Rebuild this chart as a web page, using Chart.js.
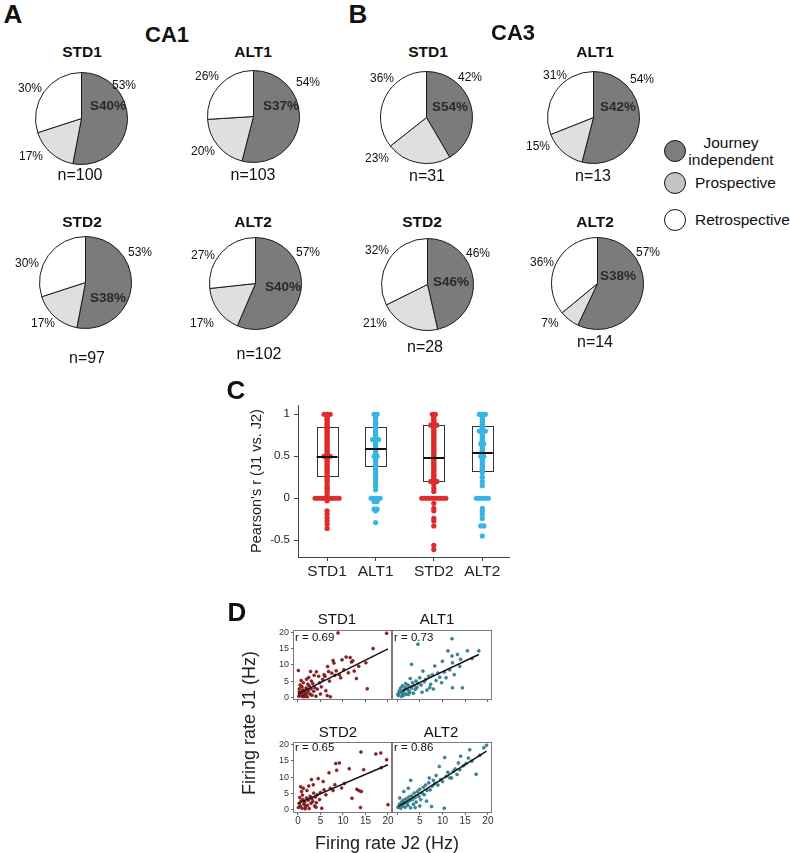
<!DOCTYPE html>
<html><head><meta charset="utf-8">
<script src="https://cdn.jsdelivr.net/npm/chart.js@4.4.1/dist/chart.umd.min.js"></script>
<style>
html,body{margin:0;padding:0;background:#fff;}
body{width:790px;height:853px;position:relative;overflow:hidden;font-family:"Liberation Sans",Arial,sans-serif;color:#111;}
.t{position:absolute;white-space:nowrap;line-height:1;}
canvas{position:absolute;}
.lg{position:absolute;width:22px;height:22px;border-radius:50%;border:1.5px solid #111;box-sizing:border-box;}
</style></head><body>
<script>
// ---------------- DATA ----------------
const pieTitles = ['STD1','ALT1','STD2','ALT2'];
// CA1
const ca1Journey = [53,54,53,57];
const ca1Prospective = [17,20,17,17];
const ca1Retrospective = [30,26,30,27];
const ca1S = [40,37,38,40];
const ca1N = [100,103,97,102];
// CA3
const ca3Journey = [42,54,46,57];
const ca3Prospective = [23,15,21,7];
const ca3Retrospective = [36,31,32,36];
const ca3S = [54,42,46,38];
const ca3N = [31,13,28,14];
const legendLabels = ['Journey\nindependent','Prospective','Retrospective'];

// Panel C: Pearson's r per cell
const corrCategories = ['STD1','ALT1','STD2','ALT2'];
const corrStd1 = [1,1,1,0.98,0.96,0.94,0.92,0.9,0.88,0.86,0.85,0.84,0.82,0.8,0.78,0.76,0.74,0.72,0.7,0.68,0.66,0.64,0.62,0.6,0.58,0.56,0.54,0.52,0.5,0.5,0.5,0.48,0.46,0.44,0.42,0.4,0.38,0.36,0.34,0.32,0.3,0.28,0.26,0.24,0.22,0.2,0.17,0.14,0.12,0.1,0.07,0.04,0,0,0,0,0,0,0,0,0,-0.03,-0.15,-0.19,-0.23,-0.27,-0.31,-0.36];
const corrAlt1 = [1,1,0.98,0.95,0.92,0.9,0.88,0.85,0.82,0.8,0.78,0.75,0.72,0.7,0.7,0.7,0.68,0.65,0.62,0.6,0.58,0.55,0.52,0.5,0.5,0.48,0.45,0.42,0.4,0.38,0.35,0.32,0.3,0.28,0.25,0.22,0.2,0.17,0.14,0.1,0,0,0,0,-0.04,-0.04,-0.13,-0.13,-0.15,-0.29];
const corrStd2 = [1,1,0.98,0.96,0.94,0.92,0.9,0.88,0.87,0.87,0.87,0.85,0.83,0.81,0.79,0.77,0.75,0.73,0.71,0.69,0.67,0.65,0.63,0.61,0.59,0.57,0.55,0.53,0.51,0.49,0.47,0.45,0.43,0.41,0.39,0.37,0.35,0.33,0.31,0.29,0.27,0.25,0.23,0.21,0.2,0.2,0.2,0.16,0.12,0.08,0,0,0,0,0,0,0,0,0,-0.06,-0.12,-0.15,-0.24,-0.27,-0.33,-0.56,-0.61];
const corrAlt2 = [1,1,1,0.98,0.96,0.94,0.92,0.9,0.88,0.86,0.84,0.82,0.8,0.8,0.8,0.78,0.76,0.74,0.72,0.7,0.68,0.66,0.65,0.65,0.63,0.61,0.59,0.57,0.55,0.53,0.51,0.5,0.5,0.48,0.46,0.44,0.42,0.4,0.38,0.36,0.34,0.32,0.3,0.25,0.2,0.15,0,0,0,0,0,-0.12,-0.15,-0.19,-0.24,-0.33,-0.33,-0.45];
const boxQ1 = [0.26,0.39,0.20,0.32];
const boxMedian = [0.49,0.59,0.48,0.54];
const boxQ3 = [0.85,0.85,0.87,0.86];
const corrTicks = [-0.5,0,0.5,1];

// Panel D: firing rate J2 (x) vs J1 (y), Hz
const frStd1 = [[0.2,0.3],[0.4,1.0],[0.6,0.5],[0.8,1.5],[1.0,0.2],[1.1,2.2],[1.3,0.9],[1.5,1.8],[1.6,0.4],[1.8,2.8],[2.0,1.2],[2.1,0.1],[2.3,2.0],[2.5,3.5],[2.7,1.0],[2.9,2.6],[3.1,0.6],[3.3,4.2],[3.5,1.8],[3.7,3.0],[0.3,2.6],[0.5,3.8],[0.9,3.2],[1.2,4.5],[0.1,8.3],[0.7,5.2],[1.9,5.6],[2.4,6.1],[2.2,4.0],[3.0,5.0],[4.0,0.3],[4.3,2.5],[4.6,6.5],[4.8,4.5],[5.2,3.2],[5.5,5.5],[5.0,1.0],[5.8,7.0],[6.0,6.5],[6.2,2.0],[6.5,0.5],[6.8,8.0],[7.0,5.0],[7.2,0.1],[7.5,7.5],[7.8,11.4],[8.0,10.6],[8.2,6.8],[8.5,8.2],[8.9,20],[9.2,7.0],[9.5,6.0],[9.8,11.6],[10.2,8.5],[10.7,12.5],[11.2,7.6],[11.6,12.3],[11.9,10.9],[12.2,11.3],[12.5,8.1],[13.0,5.8],[13.5,9.6],[15.1,10.7],[15.4,2.6],[16.7,15.1],[19.7,19.9],[3.6,6.8],[4.1,7.9],[6.6,9.5],[2.8,8.0],[1.4,0.1],[0.3,1.7]];
const frAlt1 = [[0.3,0.5],[0.6,1.5],[0.8,2.8],[1.0,0.2],[1.2,3.5],[1.4,1.8],[1.6,2.2],[1.8,3.0],[2.0,1.0],[2.2,2.5],[2.4,3.8],[2.6,2.0],[2.8,1.5],[3.0,3.2],[3.2,2.8],[3.4,4.5],[3.6,1.2],[3.8,3.6],[4.0,2.4],[4.2,5.0],[4.4,3.0],[4.6,4.2],[0.5,2.0],[1.1,1.2],[1.9,4.2],[2.9,5.8],[3.2,10.2],[4.6,16.5],[5.0,6.0],[5.3,3.8],[5.7,8.1],[6.0,4.8],[6.3,5.5],[6.6,2.2],[7.0,6.5],[7.4,4.0],[7.8,7.0],[8.3,9.7],[8.6,5.2],[9.0,7.5],[9.4,6.2],[9.8,4.5],[10.0,11.2],[10.4,7.8],[10.8,6.0],[11.2,14.4],[11.6,8.5],[12.1,18.2],[12.1,12.8],[12.2,10.7],[12.2,2.9],[12.6,7.0],[13.3,13.3],[13.8,9.6],[14.0,11.8],[14.4,2.9],[15.5,14.4],[16.5,12.0],[18.0,14.4],[0.2,1.0],[1.5,0.6],[2.5,0.8],[5.5,1.5],[7.2,3.0],[8.0,2.5]];
const frStd2 = [[0.1,0.5],[0.3,1.8],[0.5,1.0],[0.7,2.5],[0.9,0.3],[1.1,3.0],[1.3,1.5],[1.5,2.2],[1.7,0.8],[1.9,3.5],[2.1,1.2],[2.3,2.8],[2.5,0.2],[2.7,4.0],[2.9,1.8],[3.1,3.2],[3.3,2.4],[3.5,5.0],[3.7,1.0],[3.9,3.8],[4.1,2.0],[4.3,4.5],[0.4,3.6],[0.8,5.5],[1.2,6.5],[0.6,7.0],[1.0,4.4],[2.0,5.8],[2.4,7.2],[3.0,9.2],[3.4,7.6],[4.5,9.5],[4.8,3.0],[5.3,0.3],[5.6,8.6],[5.0,5.2],[5.8,6.0],[6.2,4.5],[6.9,11.3],[7.2,6.5],[7.8,5.8],[8.2,7.6],[8.6,12.1],[8.4,14.2],[9.2,14.4],[9.7,6.6],[10.3,8.0],[11.4,12.6],[12.0,3.4],[13.1,6.2],[13.6,5.7],[13.9,0.5],[14.0,17.8],[14.1,5.5],[14.6,12.3],[17.3,17.2],[18.4,17.5],[19.7,15.4],[20.0,1.4],[18.5,12.9],[1.6,0.1],[4.0,0.6]];
const frAlt2 = [[0.2,0.6],[0.5,1.5],[0.8,0.3],[1.0,2.2],[1.2,1.0],[1.4,2.8],[1.6,1.8],[1.8,0.6],[2.0,3.2],[2.2,2.0],[2.4,1.2],[2.6,3.8],[2.8,2.6],[3.0,0.4],[3.2,4.2],[3.4,3.0],[3.6,1.5],[3.8,5.0],[4.0,3.6],[4.2,2.2],[4.5,5.5],[4.8,4.0],[5.0,6.2],[5.2,3.0],[5.5,5.0],[5.8,6.8],[6.0,4.5],[6.3,7.5],[6.6,5.8],[7.0,8.2],[7.1,9.7],[7.3,6.0],[7.6,0.8],[7.8,7.2],[8.0,9.0],[8.3,8.0],[8.6,10.5],[9.0,7.5],[9.3,13.3],[9.6,9.2],[10.0,8.6],[10.4,0.3],[10.5,16.1],[10.8,10.2],[11.2,11.5],[11.6,9.8],[12.0,9.7],[12.4,11.8],[12.8,12.5],[13.2,10.8],[13.5,14.4],[13.8,12.3],[14.0,16.5],[14.6,13.5],[15.2,14.2],[15.7,15.9],[16.0,18.5],[16.5,15.0],[17.4,10.9],[18.2,16.8],[19.1,19.1],[19.7,19.9],[1.5,5.5],[2.5,6.5],[0.6,3.5],[3.0,9.0],[5.0,1.0],[6.5,2.5],[4.0,0.5]];
const frR = [0.69,0.73,0.65,0.86];
const fitSlope = [0.70,0.67,0.60,0.89];
const fitIntercept = [1.0,1.2,1.8,0.5];
const fitFrom = [0,1,0,0.3];
const fitTo = [20,18,20,19.7];
const frTicks = [0,5,10,15,20];

// ---------------- HELPERS ----------------
const FONT = '"Liberation Sans", Arial, sans-serif';
Chart.defaults.font.family = FONT;
function txt(s,x,y,size,o={}){
  const d=document.createElement('div'); d.className='t'; d.textContent=s;
  d.style.left=x+'px'; d.style.top=y+'px'; d.style.fontSize=size+'px';
  if(o.bold) d.style.fontWeight='bold';
  if(o.color) d.style.color=o.color;
  const ax=o.align==='left'?'0':'-50%';
  d.style.transform='translate('+ax+',-50%)'+(o.rot?' rotate(-90deg)':'');
  document.body.appendChild(d);
}
function mkCanvas(x,y,w,h){
  const c=document.createElement('canvas'); c.width=w; c.height=h;
  c.style.left=x+'px'; c.style.top=y+'px'; c.style.width=w+'px'; c.style.height=h+'px';
  document.body.appendChild(c); return c.getContext('2d');
}
const DARK='#7b7b7b', LIGHT='#dfdfdf';

// ---------------- PANEL A/B: pies ----------------
function pie(cx,cy,vals){
  const R=46.5,pad=3,size=Math.round(2*R+2*pad);
  const ctx=mkCanvas(Math.round(cx-size/2),Math.round(cy-size/2),size,size);
  new Chart(ctx,{type:'pie',data:{labels:['Journey independent','Prospective','Retrospective'],
    datasets:[{data:vals,backgroundColor:[DARK,LIGHT,'#ffffff'],borderColor:'#1a1a1a',borderWidth:1}]},
    options:{responsive:false,animation:false,events:[],layout:{padding:pad},
      plugins:{legend:{display:false},tooltip:{enabled:false}}}});
}
// layout: pie centre, title, label positions
const ca1Layout = [
  {c:[81.5,118],t:[82,52],j:[124,85],s:[108,106],r:[30,88],p:[31,156],n:[80,175]},
  {c:[253,116],t:[253,52],j:[308,82],s:[281,106],r:[207,76],p:[203,151],n:[253,175]},
  {c:[85,282],t:[82,222],j:[140,252],s:[108,298],r:[27,263],p:[43,323],n:[87,358]},
  {c:[255,283],t:[253,222],j:[308,252],s:[283,287],r:[203,255],p:[202,323],n:[259,354]}
];
const ca3Layout = [
  {c:[426,117],t:[428,52],j:[470,77],s:[450,107],r:[382,78],p:[377,158],n:[427,176]},
  {c:[593,117],t:[595,52],j:[642,79],s:[618,107],r:[555,75],p:[538,146],n:[593,176]},
  {c:[427,284],t:[422,222],j:[478,253],s:[451,282],r:[377,250],p:[375,323],n:[425,347]},
  {c:[597,283],t:[595,222],j:[648,252],s:[618,276],r:[542,262],p:[550,323],n:[595,342]}
];
function pieGroup(layout,J,P,Rt,S,N){
  layout.forEach((L,i)=>{
    pie(L.c[0],L.c[1],[J[i],P[i],Rt[i]]);
    txt(pieTitles[i],L.t[0],L.t[1],15.5,{bold:true});
    txt(J[i]+'%',L.j[0],L.j[1],12);
    txt('S'+S[i]+'%',L.s[0],L.s[1],13.5,{bold:true,color:'#2a2a2a'});
    txt(Rt[i]+'%',L.r[0],L.r[1],12);
    txt(P[i]+'%',L.p[0],L.p[1],12);
    txt('n='+N[i],L.n[0],L.n[1],16);
  });
}
pieGroup(ca1Layout,ca1Journey,ca1Prospective,ca1Retrospective,ca1S,ca1N);
pieGroup(ca3Layout,ca3Journey,ca3Prospective,ca3Retrospective,ca3S,ca3N);
txt('A',13,14,26,{bold:true});
txt('B',358,14,26,{bold:true});
txt('CA1',167,35,22,{bold:true});
txt('CA3',513,33,22,{bold:true});
// legend
[[151,'#7d7d7d'],[183,'#c4c4c4'],[220,'#ffffff']].forEach(([y,c])=>{
  const d=document.createElement('div'); d.className='lg'; d.style.left=(675-11)+'px'; d.style.top=(y-11)+'px'; d.style.background=c; document.body.appendChild(d);
});
const lg0=legendLabels[0].split('\n');
txt(lg0[0],731,143,15.5); txt(lg0[1],731,160,15.5);
txt(legendLabels[1],695,183,15.5,{align:'left'});
txt(legendLabels[2],695,220,15.5,{align:'left'});

// ---------------- PANEL C ----------------
const catPos=[1,2,3.2,4.2];
const areaC={l:298,t:403,r:509,b:557};
function swarm(vals,pos){
  const counts={},seen={};
  vals.forEach(v=>{counts[v]=(counts[v]||0)+1;});
  return vals.map(v=>{const k=seen[v]||0; seen[v]=k+1; const n=counts[v];
    return {x:pos+(k-(n-1)/2)*0.062,y:v};});
}
const boxPlugin={id:'boxes',
  beforeDatasetsDraw(ch){const {ctx,scales:{x,y}}=ch; ctx.save(); ctx.strokeStyle='#333'; ctx.lineWidth=1;
    catPos.forEach((p,i)=>{const x0=Math.round(x.getPixelForValue(p-0.215))+0.5,x1=Math.round(x.getPixelForValue(p+0.215))+0.5;
      const yt=Math.round(y.getPixelForValue(boxQ3[i]))+0.5,yb=Math.round(y.getPixelForValue(boxQ1[i]))+0.5;
      ctx.strokeRect(x0,yt,x1-x0,yb-yt);}); ctx.restore();},
  afterDatasetsDraw(ch){const {ctx,scales:{x,y}}=ch; ctx.save(); ctx.strokeStyle='#111'; ctx.lineWidth=2;
    catPos.forEach((p,i)=>{const x0=x.getPixelForValue(p-0.215),x1=x.getPixelForValue(p+0.215),ym=Math.round(y.getPixelForValue(boxMedian[i]));
      ctx.beginPath(); ctx.moveTo(x0,ym); ctx.lineTo(x1,ym); ctx.stroke();}); ctx.restore();}
};
(function(){
  const L=40,T=8,R=6,B=32;
  const ctx=mkCanvas(areaC.l-L,areaC.t-T,(areaC.r-areaC.l)+L+R,(areaC.b-areaC.t)+T+B);
  const RED='#dd2c2c',CYAN='#38b4e4';
  const groups=[corrStd1,corrAlt1,corrStd2,corrAlt2];
  new Chart(ctx,{type:'scatter',
    data:{datasets:groups.map((g,i)=>({data:swarm(g,catPos[i]),backgroundColor:i%2?CYAN:RED,borderWidth:0,pointRadius:2.6}))},
    options:{responsive:false,animation:false,events:[],layout:{padding:{left:0,top:T,right:R,bottom:0}},
      plugins:{legend:{display:false},tooltip:{enabled:false}},
      scales:{
        x:{type:'linear',min:0.4,max:4.75,afterFit:s=>{s.height=B;},
          afterBuildTicks:s=>{s.ticks=catPos.map(v=>({value:v}));},
          ticks:{callback:(v,i)=>corrCategories[i],font:{size:15.5},color:'#222',padding:1,maxRotation:0,autoSkip:false},
          grid:{display:true,drawOnChartArea:false,drawTicks:true,tickLength:4,color:'#444'},
          border:{display:true,color:'#444',width:1}},
        y:{min:-0.7,max:1.1,afterFit:s=>{s.width=L;},
          afterBuildTicks:s=>{s.ticks=corrTicks.map(v=>({value:v}));},
          ticks:{font:{size:11.5},color:'#222',padding:4,callback:v=>String(v)},
          grid:{display:true,drawOnChartArea:false,drawTicks:true,tickLength:4,color:'#444'},
          border:{display:true,color:'#444',width:1}}
      }},
    plugins:[boxPlugin]});
})();
txt('C',236,390,26,{bold:true});
txt("Pearson's r (J1 vs. J2)",256,481,14.5,{rot:true,color:'#222'});

// ---------------- PANEL D ----------------
const frameP={id:'frame',afterDraw(ch){const {ctx,chartArea:a}=ch; ctx.save(); ctx.strokeStyle='#7a7a7a'; ctx.lineWidth=1;
  ctx.strokeRect(Math.round(a.left)+0.5,Math.round(a.top)+0.5,Math.round(a.right-a.left)-1,Math.round(a.bottom-a.top)-1); ctx.restore();}};
function frPlot(idx,data,area,showY,showX,isAlt){
  const L=26,T=10,R=10,B=20;
  const ctx=mkCanvas(area.l-L,area.t-T,(area.r-area.l)+L+R,(area.b-area.t)+T+B);
  const fill=isAlt?'#2f93a3':'#981f1f', border=isAlt?'#1a5661':'#5a0c0c';
  const line=[fitFrom[idx],fitTo[idx]].map(x=>({x:x,y:fitIntercept[idx]+fitSlope[idx]*x}));
  new Chart(ctx,{type:'scatter',
    data:{datasets:[
      {type:'line',data:line,borderColor:'#111',borderWidth:1.5,pointRadius:0,fill:false},
      {data:data.map(p=>({x:p[0],y:p[1]})),backgroundColor:fill,borderColor:border,borderWidth:0.5,pointRadius:1.5}]},
    options:{responsive:false,animation:false,events:[],layout:{padding:{left:0,top:T,right:R,bottom:0}},
      plugins:{legend:{display:false},tooltip:{enabled:false}},
      scales:{
        x:{type:'linear',min:-1.1,max:20.9,afterFit:s=>{s.height=B;},
          afterBuildTicks:s=>{s.ticks=frTicks.map(v=>({value:v}));},
          ticks:{display:showX,font:{size:10},color:'#333',padding:0,maxRotation:0,autoSkip:false,
            callback:v=>(isAlt&&v===0)?'':String(v)},
          grid:{display:true,drawOnChartArea:false,drawTicks:true,tickLength:2,color:'#666'},
          border:{display:false}},
        y:{min:area.ymin,max:20.9,afterFit:s=>{s.width=L;},
          afterBuildTicks:s=>{s.ticks=frTicks.map(v=>({value:v}));},
          ticks:{display:showY,font:{size:9},color:'#333',padding:2},
          grid:{display:showY,drawOnChartArea:false,drawTicks:showY,tickLength:2,color:'#666'},
          border:{display:false}}
      }},
    plugins:[frameP]});
}
frPlot(0,frStd1,{l:293,t:630,r:392,b:700,ymin:-0.9},true,false,false);
frPlot(1,frAlt1,{l:392,t:630,r:492,b:700,ymin:-0.9},false,false,true);
frPlot(2,frStd2,{l:293,t:742,r:392,b:813,ymin:-1.2},true,true,false);
frPlot(3,frAlt2,{l:392,t:742,r:492,b:813,ymin:-1.2},false,true,true);
txt('D',237,612,26,{bold:true});
txt('STD1',337,618,15); txt('ALT1',437,618,15);
txt('STD2',338,731,15); txt('ALT2',441,731,15);
const rPos=[[295,638],[394,638],[295,748],[394,748]];
frR.forEach((r,i)=>txt('r = '+r.toFixed(2),rPos[i][0],rPos[i][1],11.5,{align:'left'}));
txt('Firing rate J1 (Hz)',249,723,18,{rot:true,color:'#222'});
txt('Firing rate J2 (Hz)',387,843,18,{color:'#222'});
</script>
</body></html>
